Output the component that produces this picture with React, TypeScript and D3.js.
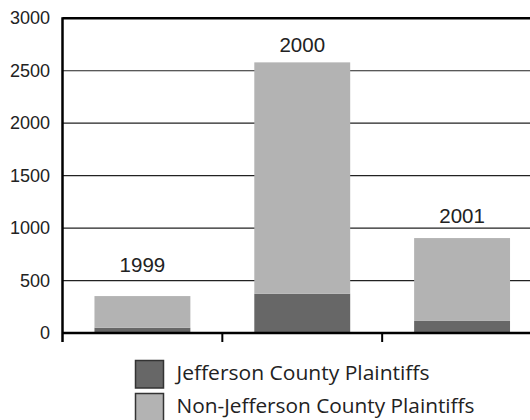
import React from "react";
import * as d3 from "d3";

const years = ["1999", "2000", "2001"];
const jefferson = [50, 375, 115];
const nonJefferson = [302, 2205, 790];
const labelValues = [585, 2680, 1050];
const yTicks = [0, 500, 1000, 1500, 2000, 2500, 3000];
const seriesNames = ["Jefferson County Plaintiffs", "Non-Jefferson County Plaintiffs"];
const seriesColors = ["#676767", "#b3b3b3"];

export default function App() {
  const W = 530, H = 420;
  const left = 62.5, right = 542, top = 18.3, bottom = 333;
  const x = d3.scaleBand().domain(years).range([left, right]).paddingInner(0.4).paddingOuter(0.2);
  const xOuter = d3.scaleBand().domain(years).range([left, right]);
  const y = d3.scaleLinear().domain([0, 3000]).range([bottom, top]);
  const rows = years.map((yr, i) => ({ year: yr, j: jefferson[i], n: nonJefferson[i] }));
  const stack = d3.stack<any>().keys(["j", "n"])(rows);
  const numFont = "'Liberation Sans', Arial, sans-serif";
  const legFont = "'Open Sans', 'Noto Sans', sans-serif";
  const legWidths = [253, 298];

  return (
    <svg width={W} height={H} style={{ position: "absolute", left: 0, top: 0 }}>
      <rect width={W} height={H} fill="#fff" />
      {yTicks.filter(t => t > 0 && t < 3000).map(t => (
        <line key={t} x1={left} x2={W} y1={y(t)} y2={y(t)} stroke="#222" strokeWidth={1.2} />
      ))}
      {stack.map((s, si) => (
        <g key={si} fill={seriesColors[si]}>
          {s.map((d, i) => (
            <rect key={i} x={x(years[i])} width={x.bandwidth()} y={y(d[1])} height={y(d[0]) - y(d[1])} />
          ))}
        </g>
      ))}
      <line x1={left} x2={W} y1={top} y2={top} stroke="#000" strokeWidth={2.5} />
      <line x1={left} x2={W} y1={bottom} y2={bottom} stroke="#000" strokeWidth={2.5} />
      <line x1={left} x2={left} y1={top - 1} y2={bottom + 9} stroke="#000" strokeWidth={2.5} />
      {years.slice(1).map(yr => (
        <line key={yr} x1={xOuter(yr)} x2={xOuter(yr)} y1={bottom} y2={bottom + 9} stroke="#000" strokeWidth={2} />
      ))}
      {yTicks.map(t => (
        <text key={t} x={50} y={y(t) + 6} textAnchor="end" fontFamily={numFont} fontSize={18} fill="#222">{t}</text>
      ))}
      {years.map((yr, i) => (
        <text key={yr} x={x(yr)! + x.bandwidth() / 2} y={y(labelValues[i])} textAnchor="middle" fontFamily={numFont} fontSize={20.5} fill="#222">{yr}</text>
      ))}
      {seriesNames.map((name, i) => (
        <g key={name} transform={`translate(135.5, ${360.5 + i * 33})`}>
          <rect width={28} height={27.5} fill={seriesColors[i]} stroke="#333" strokeWidth={1.5} />
          <text x={41} y={19} fontFamily={legFont} fontSize={19.5} fill="#222" textLength={legWidths[i]} lengthAdjust="spacingAndGlyphs">{name}</text>
        </g>
      ))}
    </svg>
  );
}
